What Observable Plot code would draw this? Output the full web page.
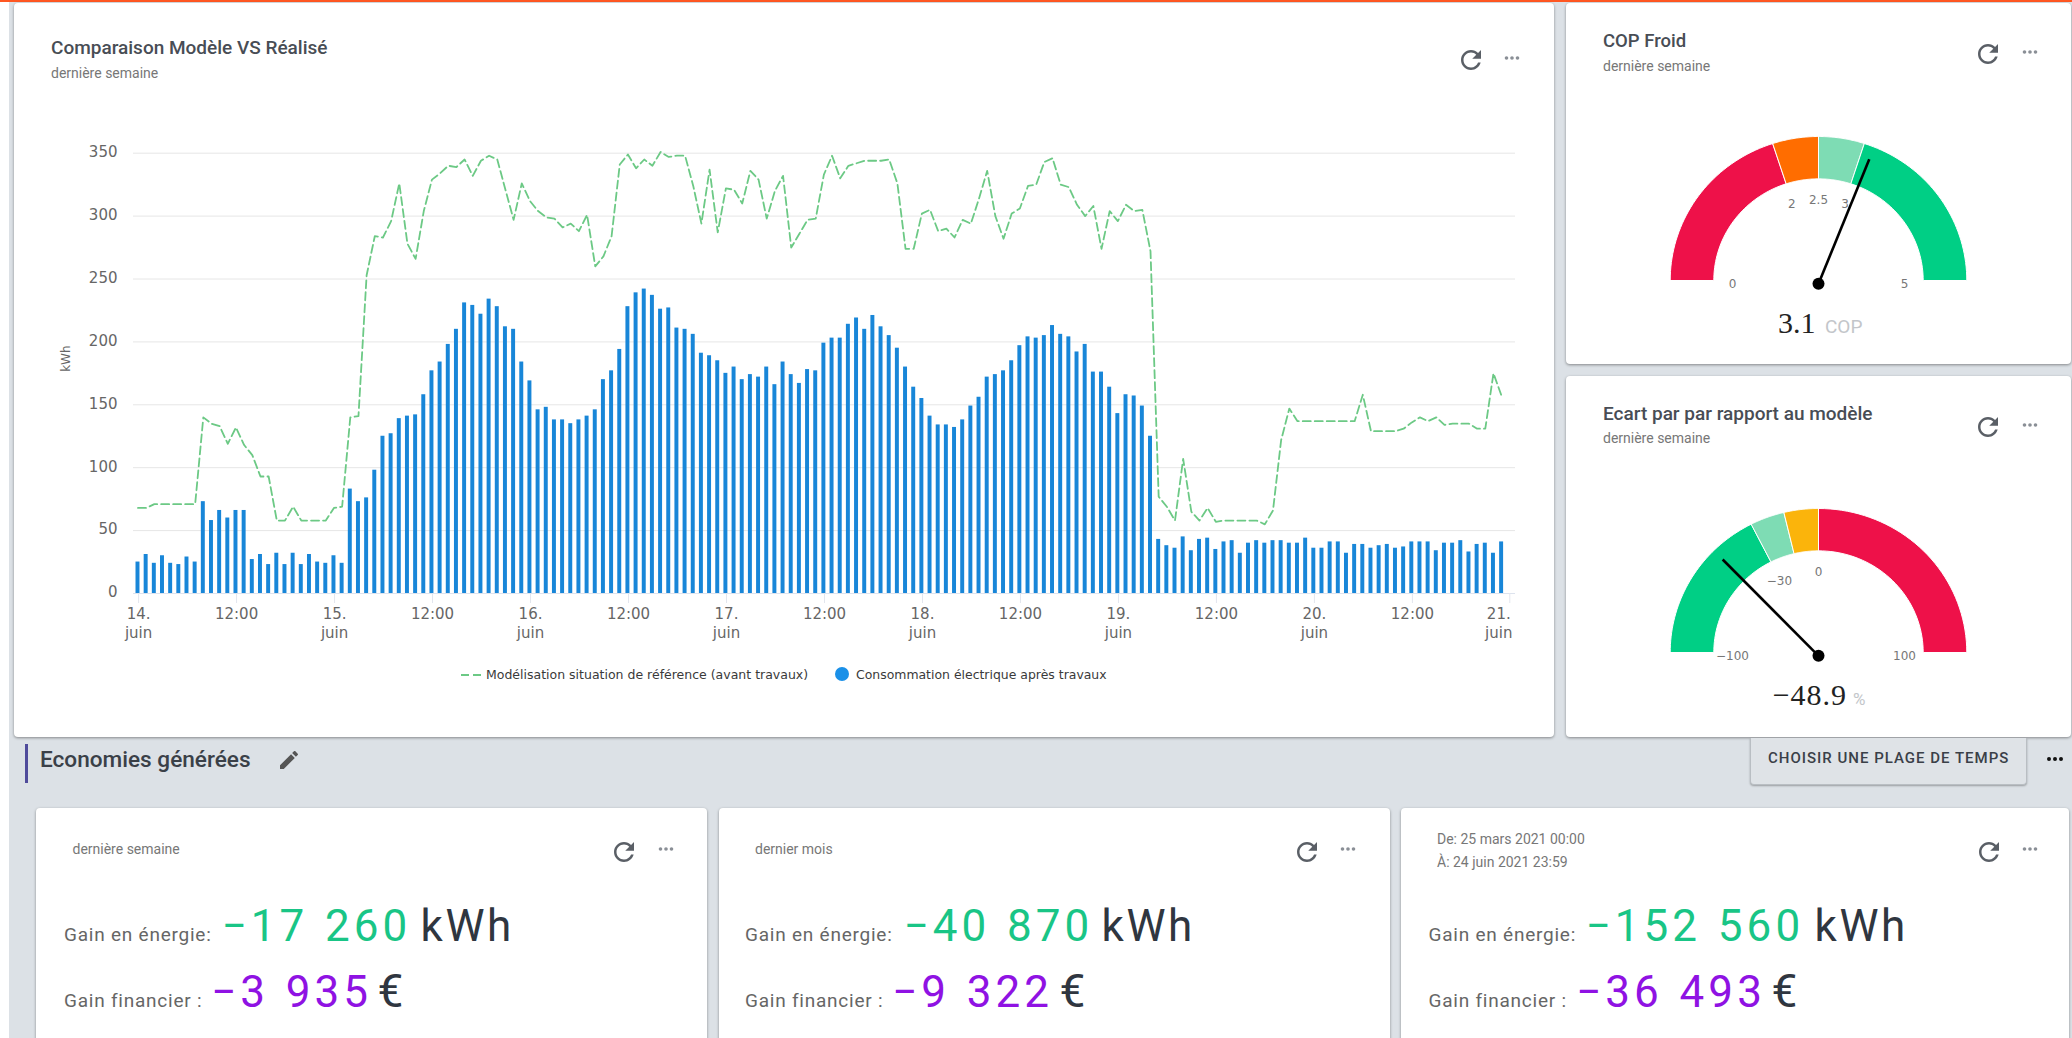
<!DOCTYPE html>
<html lang="fr">
<head>
<meta charset="utf-8">
<title>Comparaison Modèle VS Réalisé</title>
<script src="https://cdn.jsdelivr.net/npm/d3@7"></script>
<script src="https://cdn.jsdelivr.net/npm/@observablehq/plot@0.6"></script>
<style>
html,body{margin:0;padding:0;background:#fff;overflow:hidden}
#page{position:relative;width:2072px;height:1038px;overflow:hidden;background:#fff}
#bg{position:absolute;left:9px;top:0;right:0;bottom:0;background:#dce1e6}
#topbar{position:absolute;left:0;top:0;width:2072px;height:2px;background:#ff5722}
.card{position:absolute;background:#fff;border-radius:4px;box-shadow:0 1px 3px rgba(0,0,0,.4)}
.t{position:absolute;white-space:pre;line-height:1;font-family:Roboto,sans-serif}
.abs{position:absolute}
svg.icon{position:absolute;overflow:visible}
</style>
</head>
<body>
<div id="page"><div id="bg"></div><div id="topbar"></div></div>
<script>
// ---- Data: hourly values, 14 June 00:00 to 20 June 23:00 ----
const consommation = [
 25,31,24,30,24,23,29,25,73,58,66,60,66,66,27,31,23,32,23,32,23,31,25,24,
 30,24,83,73,76,98,125,127,139,141,142,158,177,184,198,210,231,229,222,234,228,212,210,184,
 169,146,148,138,138,135,138,141,146,170,177,194,228,239,242,237,226,227,211,210,206,191,189,185,
 175,180,170,174,172,180,166,184,174,167,178,177,199,203,203,214,219,210,221,212,205,195,180,164,
 155,141,134,134,132,138,149,156,172,174,177,185,197,204,203,205,213,206,204,192,198,176,176,164,
 143,158,157,149,125,43,38,36,45,34,43,44,35,41,42,32,40,42,40,42,42,40,40,44,
 36,36,41,41,32,39,39,36,38,39,36,37,41,41,41,34,40,40,42,33,39,40,32,41
];
const modele = [
 68,68,71,71,71,71,71,71,140,135,133,119,132,118,110,93,93,58,58,69,58,58,58,58,
 68,69,140,141,253,284,283,296,326,278,266,304,329,334,340,339,345,332,344,348,345,321,297,326,
 312,304,299,298,291,294,288,301,260,268,284,341,349,338,345,340,351,347,348,348,324,294,337,287,
 322,321,310,336,329,298,320,332,275,286,297,298,333,348,330,340,342,344,344,344,345,326,274,274,
 302,305,288,290,283,297,294,314,336,300,282,302,306,324,325,343,346,325,323,309,300,308,274,304,
 296,309,304,305,272,77,69,58,107,65,58,68,57,58,58,58,58,58,55,66,122,147,137,137,
 137,137,137,137,137,137,158,129,129,129,129,131,136,140,137,140,134,135,135,135,131,131,175,157
];
const debut = Date.UTC(2021,5,14);
const heure = 3600e3;
const yTicks = [0,50,100,150,200,250,300,350];
const legende = ["Modélisation situation de référence (avant travaux)","Consommation électrique après travaux"];
const couleurModele = "#6cc985", couleurConso = "#1886d8";

const copSeuils = [0,2,2.5,3,5], copCouleurs = ["#ee1149","#ff6d00","#7edcb4","#00cf85"], copLabels = [0,2,2.5,3,5], copValeur = 3.1;
const ecartSeuils = [-100,-30,-15,0,100], ecartCouleurs = ["#00cf85","#7edcb4","#fbb40b","#ee1149"], ecartLabels = [-100,-30,0,100], ecartValeur = -48.9;

const gains = [
 {sub:["dernière semaine"], en:"−17 260", fi:"−3 935"},
 {sub:["dernier mois"], en:"−40 870", fi:"−9 322"},
 {sub:["De: 25 mars 2021 00:00","À: 24 juin 2021 23:59"], en:"−152 560", fi:"−36 493"}
];

// ---- Helpers ----
const page = document.getElementById("page");
function card(l,t,r,b){const d=document.createElement("div");d.className="card";d.style.cssText=`left:${l}px;top:${t}px;width:${r-l}px;height:${b-t}px`;page.appendChild(d);}
function put(text,x,base,o={}){
  const s=o.size||14,d=document.createElement("div");d.className="t";d.textContent=text;
  d.style.left=x+"px";d.style.top=(base-0.84*s)+"px";d.style.fontSize=s+"px";
  d.style.fontWeight=o.w||400;d.style.color=o.c||"#777";
  if(o.f)d.style.fontFamily=o.f;if(o.ls)d.style.letterSpacing=o.ls+"px";if(o.ws)d.style.wordSpacing=o.ws+"px";
  page.appendChild(d);return d;
}
const NS="http://www.w3.org/2000/svg";
function icon(path,cx,cy,size,fill){
  const v=document.createElementNS(NS,"svg");v.setAttribute("class","icon");v.setAttribute("viewBox","0 0 24 24");
  v.setAttribute("width",size);v.setAttribute("height",size);v.style.left=(cx-size/2)+"px";v.style.top=(cy-size/2)+"px";
  const p=document.createElementNS(NS,"path");p.setAttribute("d",path);p.setAttribute("fill",fill);v.appendChild(p);page.appendChild(v);
}
const REFRESH="M17.65 6.35C16.2 4.9 14.21 4 12 4c-4.42 0-7.99 3.58-7.99 8s3.57 8 7.99 8c3.73 0 6.84-2.55 7.73-6h-2.08c-.82 2.33-3.04 4-5.65 4-3.31 0-6-2.69-6-6s2.69-6 6-6c1.66 0 3.14.69 4.22 1.78L13 11h7V4l-2.35 2.35z";
const EDIT="M3 17.25V21h3.75L17.81 9.94l-3.75-3.75L3 17.25zM20.71 7.04c.39-.39.39-1.02 0-1.41l-2.34-2.34c-.39-.39-1.02-.39-1.41 0l-1.83 1.83 3.75 3.75 1.83-1.83z";
const DOTS="M6 10a2 2 0 1 0 0 4a2 2 0 1 0 0-4zM12 10a2 2 0 1 0 0 4a2 2 0 1 0 0-4zM18 10a2 2 0 1 0 0 4a2 2 0 1 0 0-4z";
function tools(rx,ry,dx,dy){icon(REFRESH,rx,ry,30,"#5a5f66");icon(DOTS,dx,dy,22,"#8a8f96");}

// ---- Cards ----
card(14,3,1554,737);
card(1566,3,2071,364);
card(1566,376,2071,737);
card(36,808,707,1050);
card(719,808,1390,1050);
card(1401,808,2069,1050);

// ---- Main chart ----
const heures = consommation.map((v,i)=>({t:debut+i*heure,i,conso:v,modele:modele[i]}));
const xTicks = d3.range(0,168,12).map(h=>new Date(debut+h*heure));
const xFin = [new Date(debut+168*heure)];
const fmtX = d=>d.getUTCHours()===12?"12:00":`${d.getUTCDate()}.\njuin`;
const axeCommun = {anchor:"bottom",label:null,stroke:"#e3e6ee",fill:"#666",lineHeight:1.27,tickFormat:fmtX};
const main = Plot.plot({
  width:1541,height:510,
  marginLeft:119,marginRight:40,marginTop:22.7,marginBottom:47,
  style:{fontFamily:"'DejaVu Sans',sans-serif",fontSize:"15px",background:"transparent",overflow:"visible"},
  x:{type:"utc",domain:[new Date(debut-0.55*heure),new Date(debut+168.7*heure)]},
  y:{domain:[0,350]},
  marks:[
    Plot.gridY(yTicks,{stroke:"#e6e6e6",strokeOpacity:1}),
    Plot.rectY(heures,{x1:d=>new Date(d.t-heure/2),x2:d=>new Date(d.t+heure/2),y:"conso",fill:couleurConso,insetLeft:2.1,insetRight:2.1}),
    Plot.ruleY([0],{stroke:"#dde3ee"}),
    Plot.line(heures,{x:d=>new Date(d.t),y:"modele",stroke:couleurModele,strokeWidth:1.8,strokeDasharray:"8,4",curve:"linear"}),
    Plot.axisY(yTicks,{anchor:"left",tickSize:0,tickPadding:16,label:null,dy:-1,fill:"#666"}),
    Plot.axisX(xTicks,{...axeCommun,tickSize:10,tickPadding:2,dx:0.6}),
    Plot.axisX(xFin,{...axeCommun,tickSize:10,tickFormat:()=>""}),
    Plot.axisX(xFin,{...axeCommun,tickSize:0,tickPadding:12,dx:-11}),
    Plot.text(["kWh"],{frameAnchor:"left",rotate:-90,dx:-67,dy:-1.5,fontSize:12,fill:"#666"})
  ]
});
main.style.position="absolute";main.style.left="14px";main.style.top="130px";
page.appendChild(main);

// Legend (HTML)
(function(){
  const y=675;
  const lg=document.createElement("div");lg.className="abs";
  lg.innerHTML=`<svg width="22" height="4" style="position:absolute;left:461px;top:${y-2}px;overflow:visible"><line x1="0" y1="2" x2="21" y2="2" stroke="${couleurModele}" stroke-width="1.8" stroke-dasharray="8,4"/></svg><div style="position:absolute;left:835px;top:${y-8}px;width:14px;height:14px;border-radius:7px;background:#1a90e8"></div>`;
  page.appendChild(lg);
  put(legende[0],486,y+4,{size:12.5,c:"#3a3a3a",f:"'DejaVu Sans',sans-serif"});
  put(legende[1],856,y+4,{size:12.45,c:"#3a3a3a",f:"'DejaVu Sans',sans-serif"});
})();

// ---- Gauges ----
function gauge(seuils,couleurs,labels,valeur,top){
  const [a,b]=[seuils[0],seuils[seuils.length-1]];
  const f=v=>(v-a)/(b-a);
  const P=(fr,r)=>({x:-Math.cos(Math.PI*fr)*r,y:Math.sin(Math.PI*fr)*r});
  const R1=1,R0=0.706;
  const bands=couleurs.map((c,i)=>{
    const lo=f(seuils[i]),hi=f(seuils[i+1]);
    const fr=d3.range(0,41).map(k=>lo+(hi-lo)*k/40);
    return Plot.line([...fr.map(x=>P(x,R1)),...fr.slice().reverse().map(x=>P(x,R0)),P(lo,R1)],{x:"x",y:"y",fill:c,stroke:"#fff",strokeWidth:1,curve:"linear"});
  });
  const piv=-0.023,tip=P(f(valeur),0.93);
  const lab=labels.map(v=>{const p=P(f(v),0.58);return {x:p.x,y:p.y+piv,s:String(v).replace("-","−")};});
  const g=Plot.plot({
    width:360,height:180,margin:0,
    style:{fontFamily:"'DejaVu Sans',sans-serif",background:"transparent",overflow:"visible"},
    x:{domain:[-1,1],range:[31.7,328.3],axis:null},
    y:{domain:[0,1],range:[160,16],axis:null},
    marks:[
      ...bands,
      Plot.text(lab,{x:"x",y:"y",text:"s",fontSize:12,fill:"#777"}),
      Plot.link([0],{x1:()=>0,y1:()=>piv,x2:()=>tip.x,y2:()=>tip.y+piv,stroke:"#000",strokeWidth:2.6}),
      Plot.dot([0],{x:()=>0,y:()=>piv,r:6,fill:"#000"})
    ]
  });
  g.style.position="absolute";g.style.left="1638px";g.style.top=top+"px";page.appendChild(g);
}
gauge(copSeuils,copCouleurs,copLabels,copValeur,120);
gauge(ecartSeuils,ecartCouleurs,ecartLabels,ecartValeur,492.3);

// ---- Text of the top cards ----
const TC="#484d55";
put("Comparaison Modèle VS Réalisé",51,54,{size:19,w:500,c:TC});
put("dernière semaine",51,78,{size:14});
tools(1471,60,1512,58);
put("COP Froid",1603,48,{size:18.5,w:500,c:TC});
put("dernière semaine",1603,71,{size:14});
tools(1987.7,54,2030,52);
put("Ecart par par rapport au modèle",1603,420,{size:19,w:500,c:TC});
put("dernière semaine",1603,443,{size:14});
tools(1987.7,427,2030,424.7);
const SERIF="'Liberation Serif',serif";
put(String(copValeur),1778,333,{size:30,c:"#222",f:SERIF});
put("COP",1825,333,{size:19,c:"#c3c6ca"});
put(String(ecartValeur).replace("-","−"),1772.7,705,{size:30,c:"#222",f:SERIF,ls:1});
put("%",1853,705,{size:17,c:"#c3c6ca"});

// ---- Section header ----
const bar=document.createElement("div");bar.className="abs";bar.style.cssText="left:25px;top:744px;width:3px;height:39px;background:#4f4b9b";page.appendChild(bar);
put("Economies générées",40,768,{size:22.6,w:500,c:"#3a4048"});
icon(EDIT,289,760,24,"#555");
const btn=document.createElement("div");btn.className="abs";btn.style.cssText="left:1750px;top:738px;width:277px;height:47px;background:#dfe3e7;border:1px solid #b9bec3;border-top:none;border-radius:0 0 4px 4px;box-shadow:0 1px 2px rgba(0,0,0,.3);box-sizing:border-box";page.appendChild(btn);
put("CHOISIR UNE PLAGE DE TEMPS",1768,764,{size:15,w:500,c:"#3a4048",ls:1});
icon(DOTS,2055,759,24,"#111");

// ---- KPI cards ----
const KPI=[
 {sx:72.5,lx:64,e:221.4,eu:420.5,f:211,fu:377.5,rx:624,dx:666},
 {sx:755,lx:745,e:903.4,eu:1101.5,f:892,fu:1059.5,rx:1307,dx:1348},
 {sx:1437,lx:1428.5,e:1585.4,eu:1814.5,f:1576,fu:1771.5,rx:1989,dx:2030}
];
gains.forEach((g,i)=>{
  const k=KPI[i];
  if(g.sub.length===1) put(g.sub[0],k.sx,854,{size:14});
  else {put(g.sub[0],k.sx,844,{size:14});put(g.sub[1],k.sx,867,{size:14});}
  tools(k.rx,852,k.dx,849);
  put("Gain en énergie:",k.lx,940.7,{size:19,c:"#666",ls:0.77});
  put("Gain financier :",k.lx,1006.7,{size:19,c:"#666",ls:0.77});
  put(g.en,k.e,941,{size:44,w:400,c:"#19c586",ls:4.1,ws:1.6});
  put("kWh",k.eu,941,{size:44,w:400,c:"#2f3640",ls:2.6});
  put(g.fi,k.f,1007,{size:44,w:400,c:"#8f12e3",ls:4.1,ws:1.6});
  put("€",k.fu,1007,{size:46,w:400,c:"#2f3640"});
});
</script>
</body>
</html>
